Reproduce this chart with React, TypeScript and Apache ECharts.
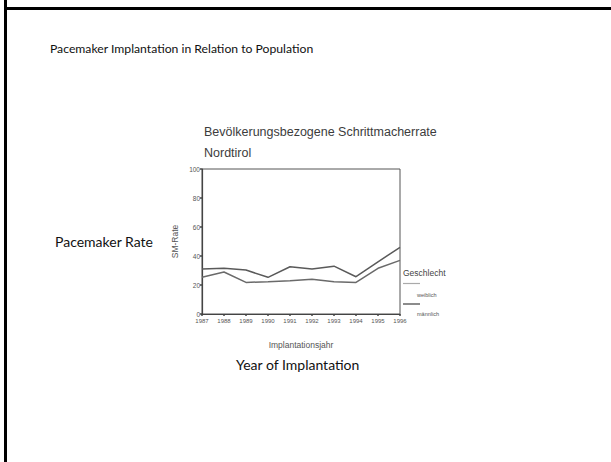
import React, { useEffect, useRef } from "react";
import * as echarts from "echarts";

const years = ["1987", "1988", "1989", "1990", "1991", "1992", "1993", "1994", "1995", "1996"];
const maleRate = [31, 31.5, 30.3, 25.3, 32.6, 31, 33, 25.7, 36, 46];
const femaleRate = [25.3, 29, 21.8, 22.3, 23, 24, 22.3, 21.8, 31.5, 37];
const yTicks = [0, 20, 40, 60, 80, 100];
const legendNames = ["weiblich", "männlich"];

export default function App() {
  const ref = useRef<HTMLDivElement>(null);
  useEffect(() => {
    const chart = echarts.init(ref.current!, null, { renderer: "svg" });
    const scanText = "#3c3c3c";
    chart.setOption({
      animation: false,
      backgroundColor: "#ffffff",
      grid: { left: 202, right: 211, top: 169, bottom: 148, show: true, borderColor: "#555", borderWidth: 1 },
      xAxis: {
        type: "category",
        data: years,
        boundaryGap: false,
        axisLine: { lineStyle: { color: "#444", width: 1.2 } },
        axisTick: { show: true, alignWithLabel: true, length: 2, lineStyle: { color: "#444", width: 1.5 } },
        axisLabel: { fontSize: 6, color: "#555", margin: 4, fontFamily: "Liberation Sans" },
        name: "Implantationsjahr",
        nameLocation: "middle",
        nameGap: 26,
        nameTextStyle: { fontSize: 8.5, color: "#555", fontFamily: "Liberation Sans" },
      },
      yAxis: {
        type: "value",
        min: 0,
        max: 100,
        interval: 20,
        axisLine: { show: true, lineStyle: { color: "#444", width: 1.2 } },
        axisTick: { show: true, length: 2, lineStyle: { color: "#444", width: 1.5 } },
        splitLine: { show: false },
        axisLabel: { fontSize: 6.5, color: "#555", margin: 2, fontFamily: "Liberation Sans",
          formatter: (v: number) => (yTicks.includes(v) ? String(v) : "") },
        name: "SM-Rate",
        nameLocation: "middle",
        nameGap: 23,
        nameRotate: 90,
        nameTextStyle: { fontSize: 8.5, color: "#555", fontFamily: "Liberation Sans" },
      },
      series: [
        {
          name: legendNames[1],
          type: "line",
          data: maleRate,
          symbol: "none",
          lineStyle: { color: "#5a5a5a", width: 1.5 },
        },
        {
          name: legendNames[0],
          type: "line",
          data: femaleRate,
          symbol: "none",
          lineStyle: { color: "#6a6a6a", width: 1.5 },
        },
      ],
      graphic: [
        { type: "line", shape: { x1: 5.5, y1: 0, x2: 5.5, y2: 462 }, style: { stroke: "#000", lineWidth: 3 } },
        { type: "line", shape: { x1: 4, y1: 8.5, x2: 611, y2: 8.5 }, style: { stroke: "#000", lineWidth: 3 } },
        { type: "text", x: 50, y: 48, style: { text: "Pacemaker Implantation in Relation to Population", fontSize: 12.2, fontFamily: "Lato", fill: "#111", verticalAlign: "middle" } },
        { type: "text", x: 55, y: 241, style: { text: "Pacemaker Rate", fontSize: 14, fontFamily: "Lato", fill: "#111", verticalAlign: "middle" } },
        { type: "text", x: 236, y: 364, style: { text: "Year of Implantation", fontSize: 14, fontFamily: "Lato", fill: "#111", verticalAlign: "middle" } },
        { type: "text", x: 204, y: 132, style: { text: "Bevölkerungsbezogene Schrittmacherrate", fontSize: 12.5, fontFamily: "Liberation Sans", fill: scanText, verticalAlign: "middle" } },
        { type: "text", x: 204, y: 153, style: { text: "Nordtirol", fontSize: 12.5, fontFamily: "Liberation Sans", fill: scanText, verticalAlign: "middle" } },
        { type: "text", x: 403, y: 273, style: { text: "Geschlecht", fontSize: 8.5, fontFamily: "Liberation Sans", fill: "#444", verticalAlign: "middle" } },
        { type: "line", shape: { x1: 403, y1: 283.5, x2: 420, y2: 283.5 }, style: { stroke: "#aaa", lineWidth: 1.2 } },
        { type: "text", x: 417, y: 295, style: { text: legendNames[0], fontSize: 5.5, fontFamily: "Liberation Sans", fill: "#555", verticalAlign: "middle" } },
        { type: "line", shape: { x1: 403, y1: 304, x2: 420, y2: 304 }, style: { stroke: "#666", lineWidth: 1.5 } },
        { type: "text", x: 417, y: 314, style: { text: legendNames[1], fontSize: 5.5, fontFamily: "Liberation Sans", fill: "#555", verticalAlign: "middle" } },
      ],
    });
    return () => chart.dispose();
  }, []);
  return <div ref={ref} style={{ position: "absolute", left: 0, top: 0, width: 611, height: 462 }} />;
}
